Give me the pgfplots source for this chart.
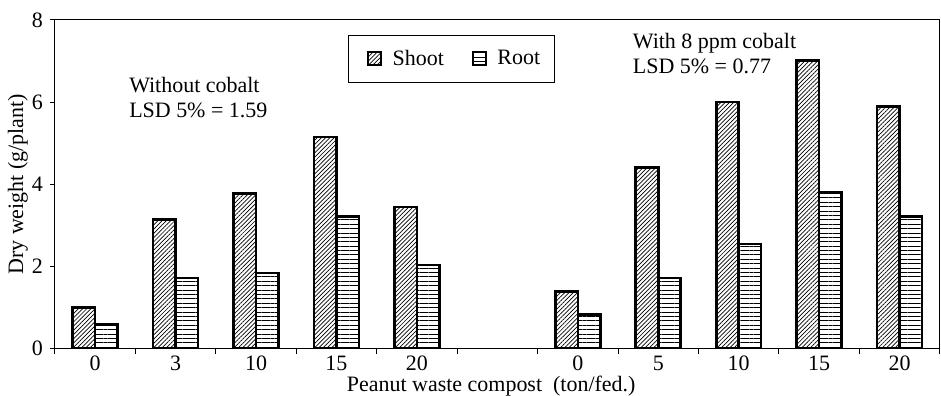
\documentclass[border=0pt]{standalone}
\usepackage{fontspec}
\setmainfont{Liberation Serif}
\usepackage{pgfplots}
\pgfplotsset{compat=1.18}
\usetikzlibrary{patterns.meta}
\begin{document}
\begin{tikzpicture}
\path[use as bounding box] (-27.5pt,-23.5pt) rectangle (443.6pt,174.5pt);
\begin{axis}[
  at={(0pt,0pt)}, anchor=south west,
  scale only axis, width=443pt, height=164.5pt,
  xmin=-0.5, xmax=10.5, ymin=0, ymax=8,
  ybar=0pt, bar width=11.25pt,
  font=\fontsize{11}{12}\selectfont,
  /pgf/number format/assume math mode=true,
  axis line style={line width=0.5pt},
  tick style={line width=0.5pt, black},
  tick align=outside, tick pos=left,
  xtick={0,1,2,3,4,6,7,8,9,10},
  xticklabels={0,3,10,15,20,0,5,10,15,20},
  major x tick style={draw=none},
  minor xtick={-0.5,0.5,1.5,2.5,3.5,4.5,5.5,6.5,7.5,8.5,9.5,10.5},
  minor tick length=2.5pt,
  ytick={0,2,4,6,8}, major tick length=2.5pt,
  xticklabel style={yshift=2.5pt},
  xlabel={Peanut waste compost\ \ (ton/fed.)},
  every axis x label/.style={at={(axis description cs:0.493,0)}, yshift=-19pt, anchor=center},
  ylabel={Dry weight (g/plant)},
  every axis y label/.style={at={(axis description cs:0,0.5)}, xshift=-18.5pt, rotate=90, anchor=center},
  legend columns=2,
  legend style={at={(0.3307,0.955)}, anchor=north west, draw=black, line width=0.5pt,
    inner xsep=5pt, inner ysep=5.25pt, font=\fontsize{11}{12}\selectfont,
    /tikz/every even column/.append style={column sep=7.5pt}},
  legend image code/.code={\path (0pt,0pt); \draw[#1, line width=1.1pt] (4.5pt,-3.25pt) rectangle (11pt,3.25pt); \path (14pt,0pt);},
]
\addplot[draw=black, line width=1.3pt, pattern={Lines[angle=45,distance=1.5pt,line width=0.35pt]}]
 coordinates {(0,1.0)(1,3.14)(2,3.77)(3,5.15)(4,3.45)(6,1.39)(7,4.41)(8,6.0)(9,7.01)(10,5.9)};
\addlegendentry{Shoot}
\addplot[draw=black, line width=1.3pt, pattern={Lines[angle=0,distance=2.2pt,line width=0.4pt]}]
 coordinates {(0,0.58)(1,1.72)(2,1.84)(3,3.22)(4,2.03)(6,0.83)(7,1.72)(8,2.55)(9,3.80)(10,3.22)};
\addlegendentry{Root}
\node[anchor=north west, inner sep=0pt, align=left, font=\fontsize{11}{12.5}\selectfont] at (axis cs:0.419,6.61) {Without cobalt\\LSD 5\% = 1.59};
\node[anchor=north west, inner sep=0pt, align=left, font=\fontsize{11}{12.5}\selectfont] at (axis cs:6.68,7.68) {With 8 ppm cobalt\\LSD 5\% = 0.77};
\end{axis}
\end{tikzpicture}
\end{document}
